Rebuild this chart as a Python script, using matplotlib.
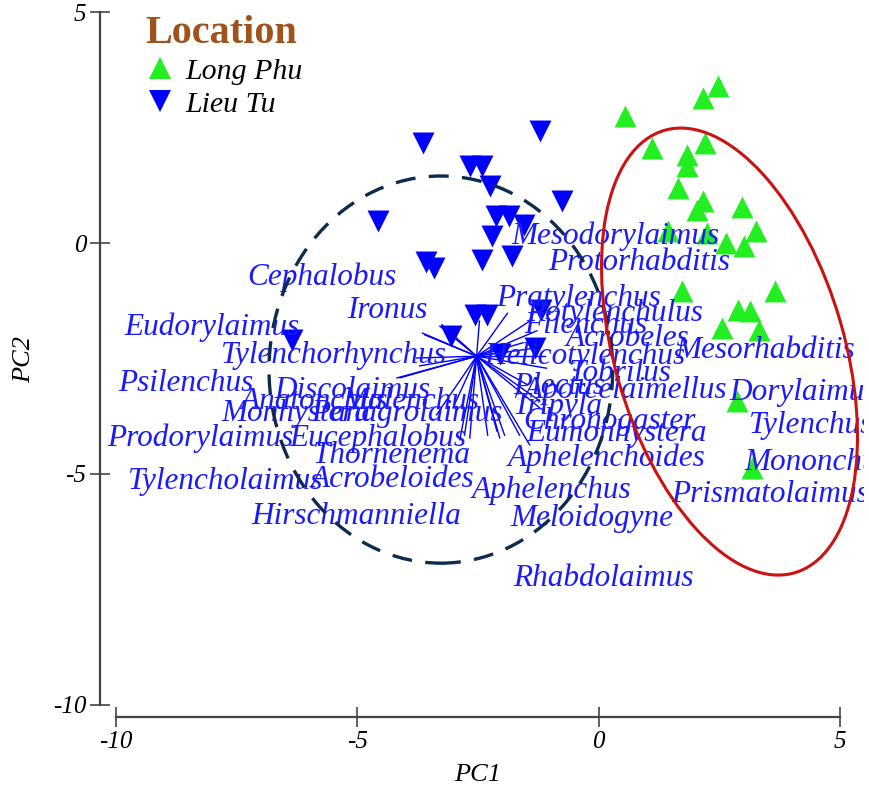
import numpy as np
import matplotlib
matplotlib.use("Agg")
import matplotlib.pyplot as plt
from matplotlib.patches import Ellipse
from matplotlib.lines import Line2D

plt.rcParams['font.family'] = 'Liberation Serif'
plt.rcParams['axes.unicode_minus'] = False

# sample scores
long_phu_x = [0.54, 2.47, 2.16, 1.10, 2.20, 1.82, 1.82, 1.64, 2.16, 2.03, 2.96,
              1.43, 2.24, 3.26, 2.63, 3.00, 1.72, 3.65, 2.88, 3.13, 2.55, 3.32,
              2.86, 3.17]
long_phu_y = [2.75, 3.40, 3.14, 2.05, 2.16, 1.90, 1.67, 1.19, 0.91, 0.71, 0.78,
              0.26, 0.22, 0.26, -0.00, -0.06, -1.04, -1.04, -1.45, -1.47, -1.84, -1.88,
              -3.42, -4.87]
lieu_tu_x = [-1.22, -3.63, -2.67, -2.42, -2.26, -0.77, -4.58, -2.13, -1.86, -1.55,
             -2.20, -2.42, -1.80, -3.58, -3.42, -2.57, -2.32, -1.20, -3.07, -1.31,
             -6.36, -2.05]
lieu_tu_y = [2.42, 2.16, 1.67, 1.67, 1.23, 0.91, 0.48, 0.58, 0.58, 0.39,
             0.15, -0.37, -0.28, -0.41, -0.54, -1.56, -1.56, -1.45, -2.01, -2.27,
             -2.10, -2.40]

# loadings (arrow tips), all drawn from the same origin
hub = (-2.53, -2.45)
load_x = [-3.65, -3.25, -2.47, -1.89, -1.43, -1.28, -1.57, -1.28, -1.12, -1.08,
          -1.47, -1.22, -1.64, -1.95, -2.11, -2.30, -2.78, -3.02, -3.36, -4.12,
          -4.18, -3.71, -3.77, -3.60, -3.29, -1.43, -2.88, -2.05, -2.67, -1.22]
load_y = [-1.95, -1.77, -1.69, -1.52, -1.69, -1.90, -2.16, -2.27, -2.45, -2.71,
          -3.07, -3.42, -4.16, -4.16, -4.07, -4.16, -4.16, -3.57, -3.72, -2.92,
          -2.92, -2.66, -2.49, -1.99, -1.80, -4.37, -4.26, -4.22, -4.22, -3.57]

genera = ["Mesodorylaimus", "Protorhabditis", "Cephalobus", "Ironus", "Pratylenchus",
          "Rotylenchulus", "Filenchus", "Acrobeles", "Helicotylenchus", "Mesorhabditis",
          "Tobrilus", "Plectus", "Aporcelaimellus", "Dorylaimus", "Tripyla",
          "Chronogaster", "Tylenchus", "Eumonhystera", "Aphelenchoides", "Mononchus",
          "Aphelenchus", "Prismatolaimus", "Meloidogyne", "Rhabdolaimus", "Hirschmanniella",
          "Tylencholaimus", "Acrobeloides", "Thornenema", "Eucephalobus", "Prodorylaimus",
          "Monhystera", "Panagrolaimus", "Anatonchus", "Malenchus", "Discolaimus",
          "Psilenchus", "Tylenchorhynchus", "Eudorylaimus"]
genus_x = [0.35, 0.83, -5.74, -4.37, -0.41, 0.33, -0.27, 0.60, -0.29, 3.44,
           0.44, -0.81, 0.56, 4.23, -0.85, 0.23, 4.39, 0.37, 0.17, 4.52,
           -0.97, 3.54, -0.15, 0.10, -5.03, -7.73, -4.27, -4.29, -4.58, -8.25,
           -6.28, -3.98, -5.88, -3.89, -5.10, -8.56, -5.49, -8.02]
genus_y = [0.14, -0.42, -0.74, -1.46, -1.20, -1.52, -1.78, -2.06, -2.45, -2.32,
           -2.82, -3.10, -3.19, -3.23, -3.53, -3.86, -3.95, -4.12, -4.66, -4.75,
           -5.35, -5.44, -5.96, -7.26, -5.92, -5.16, -5.11, -4.60, -4.23, -4.23,
           -3.69, -3.69, -3.43, -3.43, -3.19, -3.04, -2.43, -1.82]

# group ellipses: centre, width, height, angle
lieu_tu_ell = ((-3.27, -2.74), 7.12, 8.38, 0)
long_phu_ell = ((2.71, -2.35), 9.95, 4.77, 105.4)

fig = plt.figure(figsize=(8.69, 7.96), dpi=100)
ax = fig.add_axes([100 / 869, 79 / 796, 764 / 869, 717 / 796])
ax.set_xlim(-10.331, 5.496)
ax.set_ylim(-10.26, 5.26)

green = '#22ee22'
blue = '#0000ff'

ax.scatter(long_phu_x, long_phu_y, marker='^', s=250, c=green, linewidths=0, zorder=3)
ax.scatter(lieu_tu_x, lieu_tu_y, marker='v', s=250, c=blue, linewidths=0, zorder=3)

for lx, ly in zip(load_x, load_y):
    ax.plot([hub[0], lx], [hub[1], ly], color=blue, lw=1.0, zorder=2)

for name, gx, gy in zip(genera, genus_x, genus_y):
    ax.text(gx, gy, name, color='#1a1aff', fontsize=22.5, style='italic',
            ha='center', va='center', clip_on=True, zorder=4)

c, w, h, a = lieu_tu_ell
ax.add_patch(Ellipse(c, w, h, angle=a, fill=False, ec='#0d2b4e', lw=2.4,
                     ls=(0, (6, 4)), zorder=5))
c, w, h, a = long_phu_ell
ax.add_patch(Ellipse(c, w, h, angle=a, fill=False, ec='#cc1111', lw=2.2, zorder=5))

for s in ['top', 'right']:
    ax.spines[s].set_visible(False)
for s in ['left', 'bottom']:
    ax.spines[s].set_color('#444444')
    ax.spines[s].set_linewidth(1.6)
ax.spines['left'].set_bounds(-10, 5)
ax.spines['bottom'].set_bounds(-10, 5)
ax.set_xticks([-10, -5, 0, 5])
ax.set_yticks([-10, -5, 0, 5])
ax.tick_params(direction='inout', length=14, width=1.2, color='#444444',
               labelsize=18, pad=3)
for lab in ax.get_xticklabels() + ax.get_yticklabels():
    lab.set_style('italic')

fig.text(478 / 869, 1 - 775 / 796, 'PC1', fontsize=19, style='italic',
         ha='center', va='center')
fig.text(24 / 869, 1 - 360 / 796, 'PC2', fontsize=19, style='italic',
         ha='center', va='center', rotation=90)

handles = [Line2D([], [], marker='^', ls='', ms=16, color=green, mew=0),
           Line2D([], [], marker='v', ls='', ms=16, color=blue, mew=0)]
leg = ax.legend(handles, ['Long Phu', 'Lieu Tu'], loc='upper left',
                bbox_to_anchor=(30 / 764, 1.0), frameon=False,
                title='Location', alignment='left',
                prop={'style': 'italic', 'size': 21.5},
                handlelength=1.0, handletextpad=0.35, labelspacing=0.2,
                borderaxespad=0.1)
leg.get_title().set_fontsize(29)
leg.get_title().set_fontweight('bold')
leg.get_title().set_color('#a0521d')

fig.savefig('out.png', dpi=100)
